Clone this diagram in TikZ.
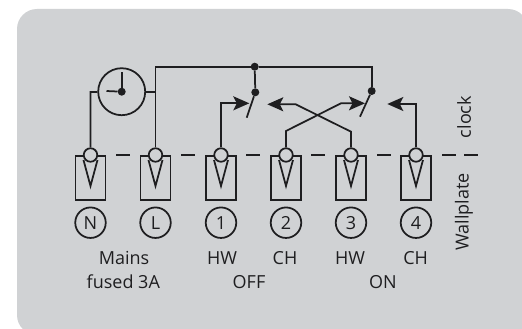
\documentclass[tikz,border=0pt]{standalone}
\usepackage{fontspec}
\setmainfont{Open Sans}
\usetikzlibrary{arrows.meta}
\definecolor{panel}{HTML}{D0D2D4}
\definecolor{ink}{HTML}{1E1E20}
\tikzset{
  wire/.style={draw=ink,line width=1.75pt},
  arrowwire/.style={wire,-{Stealth[length=16pt,width=14pt,inset=3.5pt]}},
  lab/.style={text=ink,font=\fontsize{18pt}{21pt}\selectfont,inner sep=0pt},
  ring/.style={circle,draw=ink,line width=1.75pt,minimum size=30.5pt,inner sep=0pt,text=ink,font=\fontsize{18pt}{21pt}\selectfont},
  joint/.style={circle,fill=ink,minimum size=8pt,inner sep=0pt},
  pin/.style={circle,draw=ink,fill=panel,line width=1.75pt,minimum size=13.5pt,inner sep=0pt},
}
\begin{document}
\begin{tikzpicture}[x=1pt,y=-1pt]
\useasboundingbox (0,0) rectangle (522,329);
\fill[white] (0,0) rectangle (522,329);
\fill[panel,rounded corners=20pt] (17,9) rectangle (528,335);
% dashes
\foreach \x/\w in {116/130,181/195,246/260,311/325,377/391,442/456,464/478}{
  \draw[wire] (\x,155) -- (\w,155);
}
% terminals
\foreach \n/\x/\t in {N/90.5/N,L/155.5/L,a/221/1,b/286/2,c/351/3,d/416/4}{
  \draw[wire] (\x-15,156) rectangle (\x+15,200);
  \node[ring] (r\n) at (\x,222.7) {\t};
  \draw[wire] (\x-7,160) -- (\x,186) -- (\x+7,160);
  \node[pin] (p\n) at (\x,155) {};
}
% clock
\node[circle,draw=ink,line width=1.75pt,minimum size=47pt,inner sep=0pt] (clk) at (121.7,91.7) {};
\node[joint] (hub) at (121.7,91.7) {};
\coordinate (hand1) at (121.7,72.5);
\coordinate (hand2) at (106.5,91);
\draw[wire] (hub) -- (hand1);
\draw[wire] (hub) -- (hand2);
% wiring
\coordinate (top) at (155.5,66.7);
\coordinate (lk) at (90.5,92);
\coordinate (rk) at (155.5,92);
\node[joint] (j1) at (254.7,66.7) {};
\node[joint] (s1) at (255.3,92.3) {};
\node[joint] (s2) at (371.7,91) {};
\coordinate (topr) at (371.7,66.7);
\draw[wire] (pN) -- (lk) -- (clk);
\draw[wire] (clk) -- (rk);
\draw[wire] (pL) -- (top) -- (j1) -- (topr) -- (s2);
\draw[wire] (j1) -- (s1);
\coordinate (b1) at (246.7,117.7);
\draw[wire] (s1) -- (b1);
\coordinate (b2) at (360,116.7);
\draw[wire] (s2) -- (b2);
\coordinate (t1) at (221,103.3);
\coordinate (e1) at (249.3,103.3);
\draw[arrowwire] (pa) -- (t1) -- (e1);
\coordinate (x1) at (286,131);
\coordinate (x2) at (341,103.3);
\coordinate (e2) at (365,103.3);
\draw[arrowwire] (pb) -- (x1) -- (x2) -- (e2);
\coordinate (y1) at (351,131.7);
\coordinate (y2) at (295.7,104.3);
\coordinate (e3) at (267.3,104.3);
\draw[arrowwire] (pc) -- (y1) -- (y2) -- (e3);
\coordinate (z1) at (416,104);
\coordinate (e4) at (387.3,104);
\draw[arrowwire] (pd) -- (z1) -- (e4);
% labels
\node[lab] (t1l) at (124,257.7) {Mains};
\node[lab] (t2l) at (123.3,281.7) {fused 3A};
\node[lab] (t3l) at (222,257.7) {HW};
\node[lab] (t4l) at (285,257.7) {CH};
\node[lab] (t5l) at (350,257.7) {HW};
\node[lab] (t6l) at (415.7,257.7) {CH};
\node[lab] (t7l) at (249,281.7) {OFF};
\node[lab] (t8l) at (383,281.7) {ON};
\node[lab,rotate=90] (t9l) at (464,117) {clock};
\node[lab,rotate=90] (t10l) at (464,212) {Wallplate};
\end{tikzpicture}
\end{document}
